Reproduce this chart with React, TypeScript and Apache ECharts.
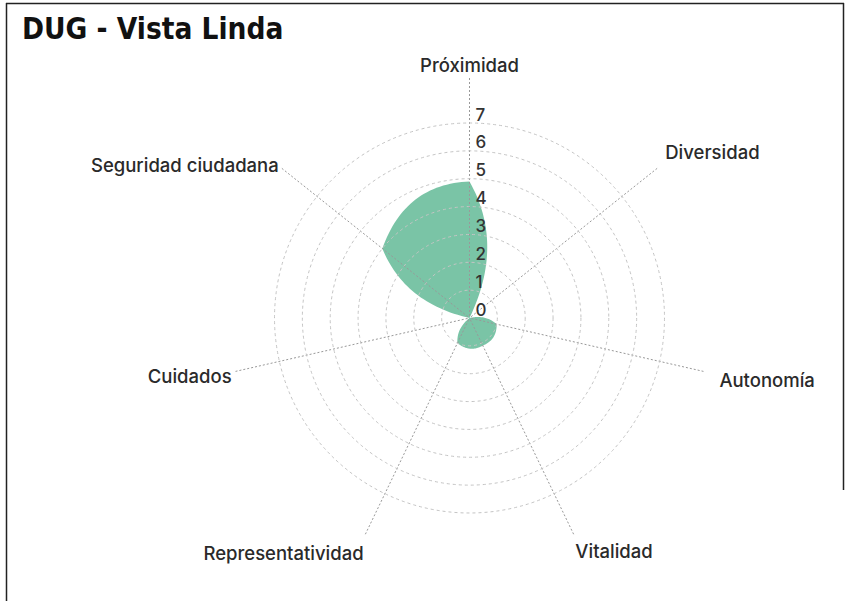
import React, { useEffect, useRef } from "react";
import * as echarts from "echarts";

const TITLE = "DUG - Vista Linda";
// Axes listed clockwise from the top
const AXES = [
  "Próximidad",
  "Diversidad",
  "Autonomía",
  "Vitalidad",
  "Representatividad",
  "Cuidados",
  "Seguridad ciudadana",
];
const VALUES = [4.9, 0, 1.0, 1.1, 1.0, 0, 4.0];
const RADIUS_TICKS = [0, 1, 2, 3, 4, 5, 6, 7];
const MAX_VALUE = 7;

// per-label nudges (rich padding: top, right, bottom, left)
const LABEL_PADDING: number[][] = [
  [0, 0, 0, 0],
  [0, 0, 4, 5],
  [16, 0, 0, 12],
  [4, 0, 0, 0],
  [6, 0, 0, 0],
  [8, 0, 0, 0],
  [0, 0, -9, 0],
];

const FILL = "rgba(99,186,150,0.85)";
const FONT = "Inter, 'Liberation Sans', Arial, sans-serif";

export default function App() {
  const ref = useRef<HTMLDivElement>(null);

  useEffect(() => {
    const chart = echarts.init(ref.current!, null, { renderer: "svg" });
    const n = AXES.length;
    const step = 360 / n;
    const center = [469.5, 318];
    const segs = 32;

    const renderItem = (params: any, api: any) => {
      if (params.dataIndex !== 0) return null;
      const pts: number[][] = [];
      for (let i = 0; i < n; i++) {
        const j = (i + 1) % n;
        const v0 = VALUES[i];
        const v1 = VALUES[j];
        const a0 = i * step;
        const a1 = (i + 1) * step;
        const p0 = api.coord([v0, a0]);
        const p2 = api.coord([v1, a1]);
        const rc =
          ((v0 + v1) / 2 / Math.cos(((step / 2) * Math.PI) / 180)) * 1.08;
        const c = api.coord([rc, (a0 + a1) / 2]);
        for (let k = 0; k < segs; k++) {
          const t = k / segs;
          const u = 1 - t;
          pts.push([
            u * u * p0[0] + 2 * u * t * c[0] + t * t * p2[0],
            u * u * p0[1] + 2 * u * t * c[1] + t * t * p2[1],
          ]);
        }
      }
      return {
        type: "polygon",
        shape: { points: pts },
        style: { fill: FILL, stroke: null },
      };
    };

    const rich: any = {};
    LABEL_PADDING.forEach((p, i) => {
      rich["l" + i] = {
        padding: p,
        fontSize: 18.5,
        fontWeight: 500,
        color: "#2a2a2a",
        fontFamily: FONT,
      };
    });

    const option: any = {
      animation: false,
      title: {
        text: TITLE,
        left: 22,
        top: 14,
        padding: 0,
        textStyle: {
          fontFamily: "'DejaVu Sans Condensed', 'DejaVu Sans', sans-serif",
          fontWeight: "bold",
          fontSize: 29.5,
          color: "#111",
        },
      },
      polar: [
        { center, radius: 195 },
        { center, radius: 240 },
      ],
      radiusAxis: [
        {
          polarIndex: 0,
          type: "value",
          min: 0,
          max: MAX_VALUE,
          interval: 1,
          z: 5,
          axisLine: { show: false },
          axisTick: { show: false },
          axisLabel: {
            margin: -6,
            align: "left",
            verticalAlign: "bottom",
            fontSize: 17,
            fontWeight: 500,
            color: "#333",
            fontFamily: FONT,
            formatter: (v: number) =>
              RADIUS_TICKS.indexOf(v) >= 0 ? String(v) : "",
          },
          splitLine: {
            show: true,
            lineStyle: { color: "#c4c4c4", type: [3, 3], width: 1 },
          },
        },
        { polarIndex: 1, type: "value", min: 0, max: 1, show: false },
      ],
      angleAxis: [
        {
          polarIndex: 0,
          type: "value",
          min: 0,
          max: 360,
          startAngle: 90,
          clockwise: true,
          show: false,
        },
        {
          polarIndex: 1,
          type: "category",
          data: AXES,
          boundaryGap: false,
          startAngle: 90,
          clockwise: true,
          z: 4,
          axisLine: { show: false },
          axisTick: { show: false },
          splitLine: {
            show: true,
            interval: 0,
            lineStyle: { color: "#999", type: [2, 2], width: 1 },
          },
          axisLabel: {
            interval: 0,
            margin: 4,
            fontSize: 18.5,
            fontWeight: 500,
            color: "#2a2a2a",
            fontFamily: FONT,
            formatter: (v: string) => {
              const i = AXES.indexOf(v);
              return "{l" + i + "|" + v + "}";
            },
            rich,
          },
        },
      ],
      series: [
        {
          type: "custom",
          coordinateSystem: "polar",
          polarIndex: 0,
          z: 2,
          data: VALUES.map((v, i) => [v, i * step]),
          renderItem,
        },
      ],
      graphic: [
        {
          type: "line",
          shape: { x1: 6.5, y1: 3, x2: 6.5, y2: 601 },
          style: { stroke: "#222", lineWidth: 1.5 },
        },
        {
          type: "line",
          shape: { x1: 6, y1: 3.5, x2: 844, y2: 3.5 },
          style: { stroke: "#222", lineWidth: 1.5 },
        },
        {
          type: "line",
          shape: { x1: 843.5, y1: 3, x2: 843.5, y2: 490 },
          style: { stroke: "#222", lineWidth: 1.5 },
        },
      ],
    };

    chart.setOption(option);
    return () => chart.dispose();
  }, []);

  return (
    <div
      ref={ref}
      style={{
        position: "absolute",
        left: 0,
        top: 0,
        width: 849,
        height: 601,
        background: "#fff",
      }}
    />
  );
}
